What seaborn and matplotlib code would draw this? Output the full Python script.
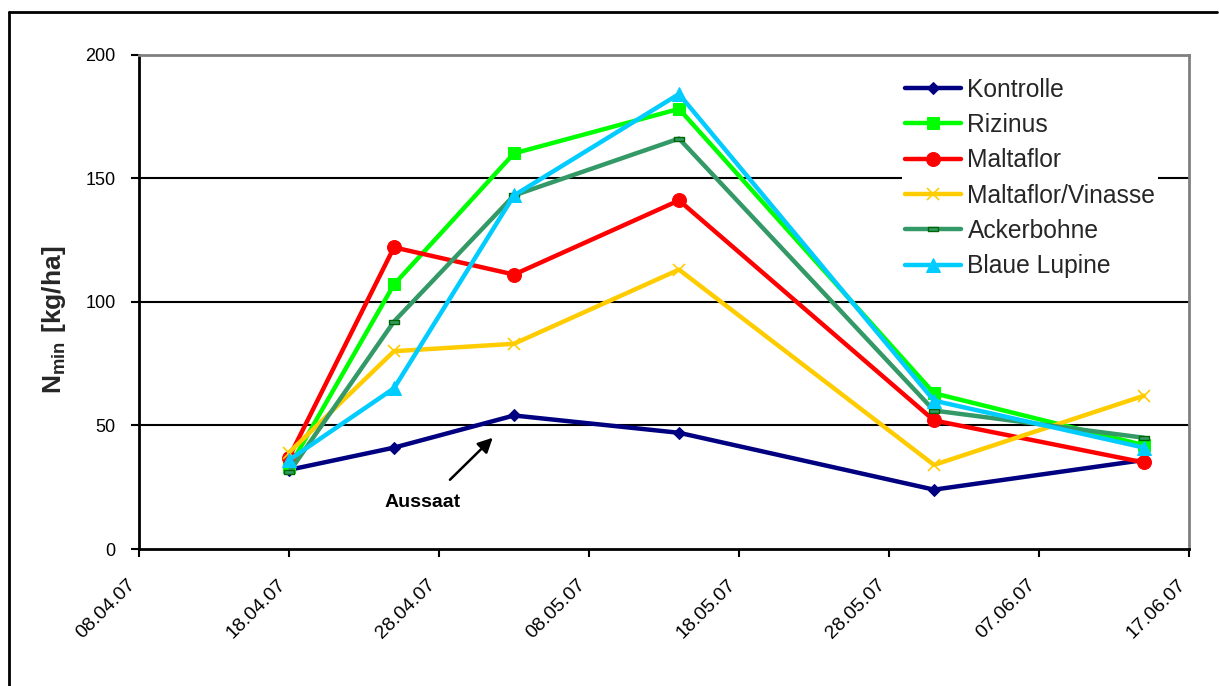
import matplotlib
matplotlib.use("Agg")
import matplotlib.pyplot as plt
import matplotlib.dates as mdates
import matplotlib.transforms as mtransforms
from matplotlib.lines import Line2D
from matplotlib.path import Path
import numpy as np
import pandas as pd
import seaborn as sns

# Sampling dates and Nmin values [kg/ha]
dates = pd.to_datetime(["2007-04-18", "2007-04-25", "2007-05-03",
                        "2007-05-14", "2007-05-31", "2007-06-14"])
kontrolle = [32, 41, 54, 47, 24, 36]
rizinus = [33, 107, 160, 178, 63, 42]
maltaflor = [37, 122, 111, 141, 52, 35]
maltaflor_vinasse = [39, 80, 83, 113, 34, 62]
ackerbohne = [31, 92, 143, 166, 56, 45]
blaue_lupine = [36, 65, 143, 184, 60, 41]

series_names = ["Kontrolle", "Rizinus", "Maltaflor", "Maltaflor/Vinasse",
                "Ackerbohne", "Blaue Lupine"]
series_values = [kontrolle, rizinus, maltaflor, maltaflor_vinasse,
                 ackerbohne, blaue_lupine]

y_ticks = [0, 50, 100, 150, 200]
x_tick_dates = pd.date_range("2007-04-08", "2007-06-17", freq="10D")

sns.set_theme(style="white")
plt.rcParams["font.family"] = ["Liberation Sans", "DejaVu Sans"]
plt.rcParams["mathtext.fontset"] = "custom"
plt.rcParams["mathtext.bf"] = "Liberation Sans:bold"
plt.rcParams["mathtext.rm"] = "Liberation Sans:bold"

fig = plt.figure(figsize=(12.19, 6.86), dpi=100)
ax = fig.add_axes([139 / 1219, 1 - 549 / 686, 1050 / 1219, 494.5 / 686])

bar_marker = Path([(-1, -0.45), (1, -0.45), (1, 0.45), (-1, 0.45), (-1, -0.45)],
                  [Path.MOVETO, Path.LINETO, Path.LINETO, Path.LINETO, Path.CLOSEPOLY])

styles = {
    "Kontrolle": dict(color="#000080", marker="D", markersize=6,
                      markeredgecolor="#000080", markerfacecolor="#000080"),
    "Rizinus": dict(color="#00FF00", marker="s", markersize=9,
                    markeredgecolor="#00FF00", markerfacecolor="#00FF00"),
    "Maltaflor": dict(color="#FF0000", marker="o", markersize=10,
                      markeredgecolor="#FF0000", markerfacecolor="#FF0000"),
    "Maltaflor/Vinasse": dict(color="#FFCC00", marker="x", markersize=9,
                              markeredgecolor="#FFCC00", markeredgewidth=1.2),
    "Ackerbohne": dict(color="#339966", marker=bar_marker, markersize=7,
                       markeredgecolor="#006600", markerfacecolor="#339966",
                       markeredgewidth=1.0),
    "Blaue Lupine": dict(color="#00CCFF", marker="^", markersize=10,
                         markeredgecolor="#00CCFF", markerfacecolor="#00CCFF"),
}

for name, vals in zip(series_names, series_values):
    df = pd.DataFrame({"Datum": dates, "Nmin": vals})
    sns.lineplot(data=df, x="Datum", y="Nmin", ax=ax, label=name,
                 linewidth=3.2, **styles[name])

# Axes limits, ticks and grid
ax.set_xlim(x_tick_dates[0], x_tick_dates[-1])
ax.set_ylim(0, 200)
ax.set_yticks(y_ticks)
ax.set_xticks(x_tick_dates)
ax.xaxis.set_major_formatter(mdates.DateFormatter("%d.%m.%y"))
for yv in y_ticks[1:-1]:
    ax.axhline(yv, color="black", linewidth=1.5, zorder=0.5)

ax.tick_params(axis="both", which="major", direction="out", length=6,
               width=1.5, color="black", labelsize=13, labelcolor="black",
               left=True, bottom=True)
ax.tick_params(axis="y", pad=11)
ax.tick_params(axis="x", labelsize=14, pad=18)
shift_left = mtransforms.ScaledTranslation(-6 / 100, 0, fig.dpi_scale_trans)
for lbl in ax.get_xticklabels():
    lbl.set_rotation(45)
    lbl.set_ha("right")
    lbl.set_va("center")
    lbl.set_rotation_mode("anchor")
    lbl.set_transform(lbl.get_transform() + shift_left)

for side in ["left", "bottom"]:
    ax.spines[side].set_color("black")
    ax.spines[side].set_linewidth(2)
for side in ["top", "right"]:
    ax.spines[side].set_color("#808080")
    ax.spines[side].set_linewidth(2)

ax.set_xlabel("")
ax.set_ylabel(r"$\mathbf{N_{min}\ [kg/ha]}$", fontsize=19)
ax.yaxis.set_label_coords(-0.0676, 0.463)

# Sowing annotation
ax.annotate("", xy=(pd.Timestamp("2007-05-01 14:00"), 45),
            xytext=(pd.Timestamp("2007-04-28 17:30"), 28),
            arrowprops=dict(arrowstyle="-|>", color="black", lw=1.8,
                            mutation_scale=22, shrinkA=0, shrinkB=0))
ax.text(pd.Timestamp("2007-04-26 22:00"), 19, "Aussaat", ha="center",
        va="center", fontsize=14, fontweight="bold", color="black")

leg = ax.legend(loc="upper right", bbox_to_anchor=(0.982, 0.983),
                fontsize=17.7, frameon=True, facecolor="white",
                edgecolor="none", framealpha=1, fancybox=False,
                handlelength=2.3, handletextpad=0.26, labelspacing=0.46,
                borderpad=0.1)
leg.set_zorder(5)

# Outer chart frame
fig.add_artist(Line2D([9 / 1219, 9 / 1219], [1 - 12 / 686, 0], color="black",
                      linewidth=2, transform=fig.transFigure))
fig.add_artist(Line2D([9 / 1219, 1217 / 1219], [1 - 12 / 686, 1 - 12 / 686],
                      color="black", linewidth=2, transform=fig.transFigure))

fig.savefig("out.png", dpi=100, facecolor="white")
